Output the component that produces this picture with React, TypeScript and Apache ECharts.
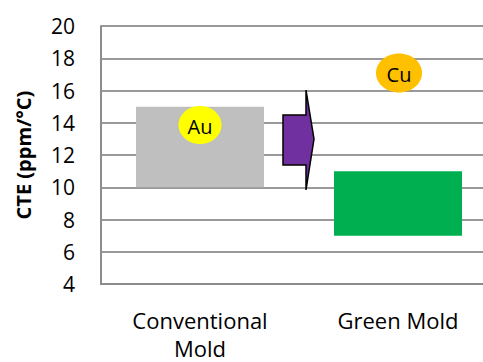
import React, { useEffect, useRef } from "react";
import * as echarts from "echarts";

const categories = ["Conventional\nMold", "Green Mold"];
const rangeLow = [10, 7];
const rangeHigh = [15, 11];
const barColors = ["#BFBFBF", "#00B050"];
const yTicks = { min: 4, max: 20, interval: 2 };
const axisName = "CTE (ppm/°C)";

const FONT = "'Open Sans', sans-serif";

export default function App() {
  const ref = useRef<HTMLDivElement>(null);
  useEffect(() => {
    if (!ref.current) return;
    const chart = echarts.init(ref.current, undefined, { renderer: "svg" });
    const spans = rangeHigh.map((h, i) => h - rangeLow[i]);
    chart.setOption({
      animation: false,
      backgroundColor: "#FFFFFF",
      grid: { left: 101, top: 26, height: 260, right: 0, containLabel: false },
      xAxis: {
        type: "category",
        data: categories,
        axisLine: { show: true, lineStyle: { color: "#8C8C8C", width: 2 } },
        axisTick: { show: false },
        axisLabel: {
          color: "#000",
          fontFamily: FONT,
          fontSize: 22,
          lineHeight: 28,
          margin: 22,
        },
      },
      yAxis: {
        type: "value",
        min: yTicks.min,
        max: yTicks.max,
        interval: yTicks.interval,
        name: axisName,
        nameLocation: "middle",
        nameRotate: 90,
        nameGap: 68,
        nameTextStyle: { color: "#000", fontFamily: FONT, fontSize: 20, fontWeight: "bold" },
        axisLine: { show: true, lineStyle: { color: "#8C8C8C", width: 2 } },
        axisTick: { show: false },
        splitLine: { show: true, lineStyle: { color: "#999999", width: 2 } },
        axisLabel: { color: "#000", fontFamily: FONT, fontSize: 21, margin: 26 },
      },
      series: [
        {
          type: "bar",
          stack: "r",
          data: rangeLow,
          itemStyle: { color: "transparent" },
          barWidth: 128,
          silent: true,
        },
        {
          type: "bar",
          stack: "r",
          barWidth: 128,
          data: spans.map((v, i) => ({ value: v, itemStyle: { color: barColors[i] } })),
        },
      ],
      graphic: [
        {
          type: "polygon",
          z: 100,
          shape: {
            points: [
              [283, 115],
              [306, 115],
              [306, 90],
              [314, 139],
              [306, 190],
              [306, 165],
              [283, 165],
            ],
          },
          style: { fill: "#7030A0", stroke: "#000", lineWidth: 1.5 },
        },
        {
          type: "ellipse",
          z: 100,
          shape: { cx: 200, cy: 125, rx: 21.5, ry: 19 },
          style: { fill: "#FFFF00" },
        },
        {
          type: "text",
          z: 101,
          x: 200,
          y: 126,
          style: { text: "Au", fill: "#000", fontSize: 20, fontFamily: FONT, align: "center", verticalAlign: "middle" },
        },
        {
          type: "ellipse",
          z: 100,
          shape: { cx: 399, cy: 73, rx: 23, ry: 19.5 },
          style: { fill: "#FFC000" },
        },
        {
          type: "text",
          z: 101,
          x: 399,
          y: 74,
          style: { text: "Cu", fill: "#000", fontSize: 20, fontFamily: FONT, align: "center", verticalAlign: "middle" },
        },
      ],
    });
    return () => chart.dispose();
  }, []);
  return (
    <div
      ref={ref}
      style={{ position: "fixed", left: 0, top: 0, width: 497, height: 362, background: "#fff" }}
    />
  );
}
